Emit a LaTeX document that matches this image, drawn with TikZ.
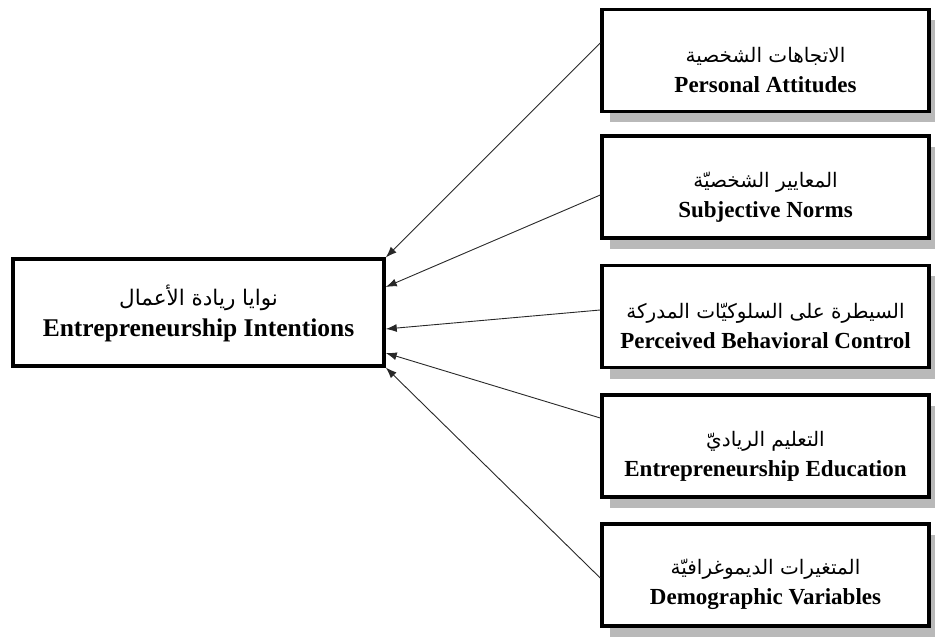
\documentclass[tikz,border=0pt]{standalone}
\usepackage{fontspec}
\setmainfont{Liberation Serif}
\newfontfamily\arabicfont[Script=Arabic]{DejaVu Sans}
\TeXXeTstate=1
\usetikzlibrary{calc,arrows.meta,shadows}
\definecolor{shadowgray}{RGB}{185,185,185}
\definecolor{linkcol}{RGB}{40,40,40}

\newcommand{\arsize}[1]{\arabicfont\mdseries\fontsize{#1}{30}\selectfont}

\tikzset{
  box/.style={draw=black, line width=3.5pt, fill=white, align=center, inner sep=0pt},
  factor/.style={box, minimum width=327pt, minimum height=102pt,
    font=\fontsize{23}{30}\selectfont\bfseries,
    drop shadow={shadow xshift=8pt, shadow yshift=-11pt, fill=shadowgray, opacity=1}},
  link/.style={-{Latex[length=11pt,width=8pt]}, line width=0.9pt, draw=linkcol}
}

\begin{document}
\begin{tikzpicture}[x=1pt,y=-1pt]
  \useasboundingbox (0,0) rectangle (935,639);

  % dependent variable
  \node[box, minimum width=371pt, minimum height=107pt,
        font=\fontsize{25.5}{31}\selectfont\bfseries] (intent) at (198.5,312.5)
        {\rule{0pt}{22pt}{\arsize{21.5}\beginR نوايا ريادة الأعمال\endR}\\Entrepreneurship Intentions};

  % factors
  \foreach \n/\y/\ar/\en in {
      1/60.5/{\beginR الاتجاهات الشخصية\endR}/{Personal Attitudes},
      2/187/{\beginR المعايير الشخصيّة\endR}/{Subjective Norms},
      3/316.5/{\beginR السيطرة على السلوكيّات المدركة\endR}/{Perceived Behavioral Control},
      4/446/{\beginR التعليم الرياديّ\endR}/{Entrepreneurship Education},
      5/575/{\beginR المتغيرات الديموغرافيّة\endR}/{Demographic Variables}}{
    \node[factor] (f\n) at (765.5,\y) {\rule{0pt}{35pt}{\arsize{20}\ar}\\\en};
  }

  \foreach \n/\s/\t in {1/-17.5/-55, 2/8/-25.5, 3/-6.5/16.5, 4/-28/40.5, 5/3/55}{
    \draw[link] ($(f\n.west)+(0,\s)$) -- ($(intent.east)+(0,\t)$);
  }
\end{tikzpicture}
\end{document}
